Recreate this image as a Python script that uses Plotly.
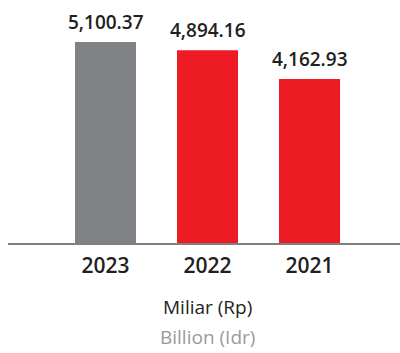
import plotly.graph_objects as go

years = ["2023", "2022", "2021"]
values = [5100.37, 4894.16, 4162.93]
labels = ["5,100.37", "4,894.16", "4,162.93"]
colors = ["#808184", "#ED1C24", "#ED1C24"]

fig = go.Figure()
fig.add_trace(go.Bar(x=years, y=values, marker=dict(color=colors, line=dict(width=0)),
                     hoverinfo="skip"))

for i, (v, lab) in enumerate(zip(values, labels)):
    fig.add_annotation(x=i, y=v, text=lab, showarrow=False, yanchor="bottom", yshift=5,
                       font=dict(family="Open Sans", size=19, color="#231F20", weight=600))

fig.add_annotation(xref="paper", yref="paper", x=(207 - 8) / 392, y=(243 - 307) / 233,
                   text="Miliar (Rp)", showarrow=False, yanchor="middle", xanchor="center",
                   font=dict(family="Open Sans", size=19, color="#231F20"))
fig.add_annotation(xref="paper", yref="paper", x=(207 - 8) / 392, y=(243 - 337) / 233,
                   text="Billion (Idr)", showarrow=False, yanchor="middle", xanchor="center",
                   font=dict(family="Open Sans", size=19, color="#9A9A9A"))

fig.update_layout(
    width=400, height=353,
    margin=dict(l=8, r=0, t=10, b=110),
    paper_bgcolor="white", plot_bgcolor="white",
    bargap=0.402,
    showlegend=False,
    xaxis=dict(type="category", range=[-0.956, 2.887], showline=True, linecolor="#7F7F7F",
               linewidth=1.5, showgrid=False, ticks="", ticklabelstandoff=3,
               tickfont=dict(family="Open Sans", size=21, color="#231F20", weight=600)),
    yaxis=dict(range=[0, 5914], visible=False, showgrid=False, zeroline=False),
)

fig.write_html("out.html")
